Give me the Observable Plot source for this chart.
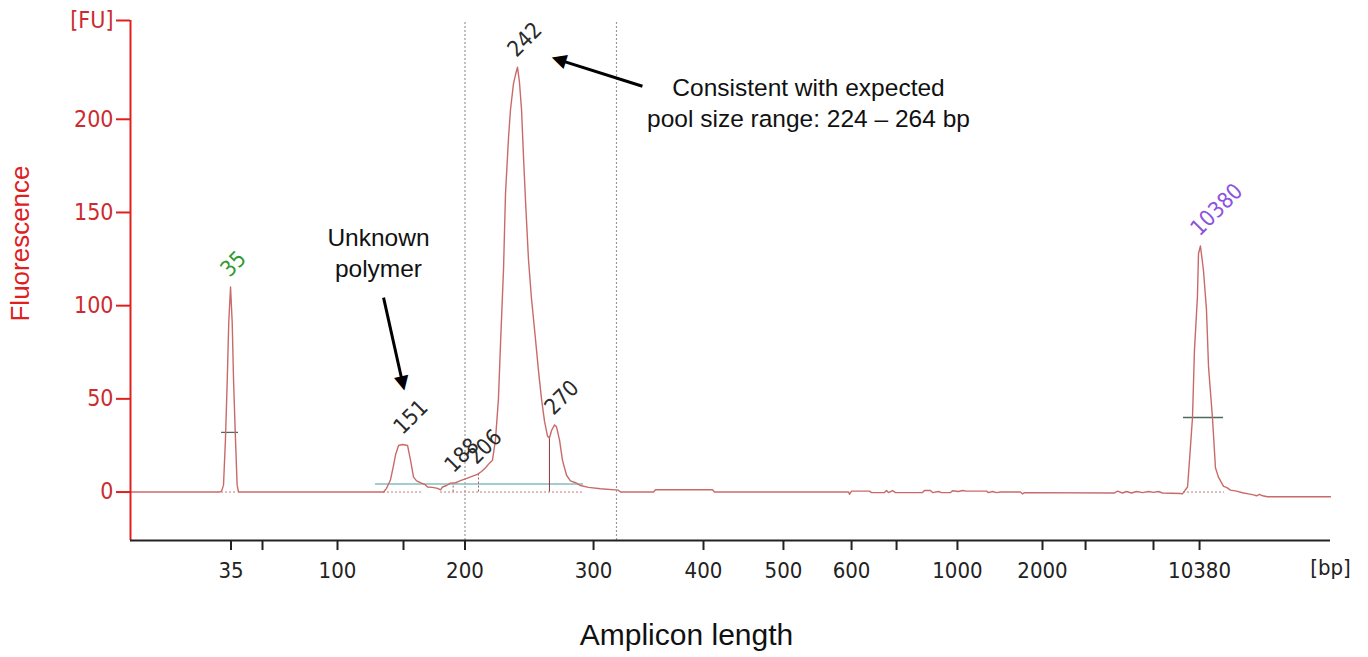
<!DOCTYPE html>
<html>
<head>
<meta charset="utf-8">
<script src="https://cdn.jsdelivr.net/npm/d3@7"></script>
<script src="https://cdn.jsdelivr.net/npm/@observablehq/plot@0.6"></script>
<style>
  html, body { margin: 0; padding: 0; background: #fff; }
  #chart svg { display: block; }
</style>
</head>
<body>
<div id="chart"></div>
<script>
// ---- Data (x = migration time in seconds, y = fluorescence units) ----
const traceT = [40, 45.93, 46.07, 46.2, 46.33, 46.45, 46.55, 46.67, 46.78, 46.87, 47.0, 47.11, 47.2,
  56.87, 57.07, 57.33, 57.53, 57.67, 57.87, 58.13, 58.47, 58.67, 58.87, 59.07, 59.33, 59.67, 59.8,
  60.13, 60.47, 60.67, 60.8, 61.07, 61.33, 61.67, 61.8, 62.13, 62.47, 62.8, 63.13, 63.4, 63.67, 63.93,
  64.13, 64.33, 64.53, 64.67, 64.87, 65.0, 65.2, 65.33, 65.53, 65.67, 65.8, 65.93, 66.07, 66.2, 66.33,
  66.53, 66.73, 67.0, 67.2, 67.4, 67.6, 67.8, 67.93, 68.07, 68.27, 68.4, 68.6, 68.8, 69.07, 69.33,
  69.67, 70.0, 70.53, 71.33, 72.53, 72.67, 74.87, 75.0, 78.8, 78.93, 87.87, 87.93, 88.07, 89.27, 89.4,
  90.27, 90.4, 90.53, 90.8, 91.0, 92.8, 92.93, 93.33, 93.47, 93.87, 94.07, 94.67, 94.8, 95.2, 95.47,
  95.73, 96.67, 97.07, 97.2, 97.47, 97.73, 98.0, 99.33, 99.47, 99.6, 105.6, 105.8, 106.13, 106.4,
  106.73, 107.07, 107.47, 107.87, 108.2, 108.53, 108.8, 110.0, 110.13, 110.47, 110.6, 110.8, 110.93,
  111.13, 111.2, 111.33, 111.53, 111.73, 111.87, 112.13, 112.33, 112.53, 112.87, 113.07, 113.33,
  113.73, 114.2, 114.53, 114.87, 115.07, 115.27, 115.47, 115.8, 120];
const traceFU = [0, 0, 0.5, 3.7, 28, 60, 91, 110, 91, 60, 28, 3.7, 0,
  0, 2, 6.5, 14, 20, 25, 25.5, 25, 17, 8, 6, 5, 3.8, 2.7,
  2.5, 2, 1.2, 2.7, 3.5, 4.8, 5, 5.4, 6.5, 7.5, 8.5, 9.5, 11, 13, 15.5,
  17, 28, 50, 80, 120, 160, 190, 205, 219, 224, 228, 220, 205, 180, 157,
  125, 104, 82, 65, 50, 38, 30, 29, 33, 36, 35, 28, 17, 9, 6,
  5, 3.5, 2.5, 1.8, 1, 0, 0, 1.2, 1.2, 0, 0, -1.2, 0.5, 0.5, -0.3,
  -0.3, 0.8, -0.3, 0.8, -0.3, -0.3, 0.8, 0.8, -0.3, 0.3, -0.3, -0.3, 0.7, 0.3, 0.8,
  0.5, 0.5, 0.5, -0.3, 0.3, -0.3, 0, 0, -1, -0.3, -0.5, 0.5, -0.5, 0.3,
  -0.5, 0.3, -0.3, 0.3, -0.2, 0.3, -0.5, -0.8, -1, 2.7, 17, 40, 76,
  105, 128, 132, 119, 98, 67, 40, 13, 8, 3, 2.5, 1,
  0.5, -0.5, -1, -1.5, -2, -1.2, -2, -2.5, -2.5];

const peakLabels = ["35", "151", "188", "206", "242", "270", "10380"];
const peakT      = [46.67, 58.2, 61.6, 63.13, 65.8, 68.27, 111.33];
const peakFU     = [110, 25.5, 5, 9.5, 228, 36, 132];
const peakColors = ["#2f9a2f", "#2a2a2a", "#2a2a2a", "#2a2a2a", "#2a2a2a", "#2a2a2a", "#8c52e0"];

const xTickT      = [46.7, 48.8, 53.8, 58.2, 62.3, 70.87, 78.2, 83.53, 88.07, 91.07, 95.13, 100.8, 103.67, 108.2, 111.27];
const xTickLabels = ["35", "", "100", "", "200", "300", "400", "500", "600", "", "1000", "2000", "", "", "10380"];
const yTickValues = [0, 50, 100, 150, 200, 253];
const yTickLabels = ["0", "50", "100", "150", "200", "[FU]"];

const rangeLinesT = [62.3, 72.4];                 // dotted size-range markers
const regionFU = [4.3], regionFrom = [56.33], regionTo = [70.2];
const baseFrom = [46.07, 56.87, 60.67, 110.2];
const baseTo   = [47.13, 59.53, 70.2, 112.93];
const dropT  = [61.51, 63.2, 67.93];
const dropFU = [4.5, 9.8, 29.5];
const markFrom = [46.07, 110.2];
const markTo   = [47.2, 112.87];
const markFU   = [32, 40];

const notes  = ["Consistent with expected\npool size range: 224 \u2013 264 bp", "Unknown\npolymer"];
const noteT  = [85.2, 56.53];
const noteFU = [209.4, 129];
const arrowFromT = [74.13, 56.87], arrowFromFU = [217.7, 104.3];
const arrowToT   = [68.0, 58.27],  arrowToFU   = [233.3, 53.8];

// ---- Tables built from the arrays ----
const trace = traceT.map((t, i) => ({t, fu: traceFU[i]}));
const peaks = peakLabels.map((label, i) => ({label, t: peakT[i], fu: peakFU[i], color: peakColors[i]}));
const xLab = new Map(xTickT.map((t, i) => [t, xTickLabels[i]]));
const yLab = new Map(yTickValues.map((v, i) => [v, yTickLabels[i]]));
const bases = baseFrom.map((a, i) => ({a, b: baseTo[i]}));
const drops = dropT.map((t, i) => ({t, fu: dropFU[i]}));
const halfMarks = markFrom.map((a, i) => ({a, b: markTo[i], fu: markFU[i]}));
const regions = regionFU.map((fu, i) => ({fu, a: regionFrom[i], b: regionTo[i]}));
const noteRows = notes.map((text, i) => ({text, t: noteT[i], fu: noteFU[i]}));

const RED = "#e0201f";
const RED_TXT = "#cc2b30";
const TICKFONT = "'DejaVu Sans Condensed', 'DejaVu Sans', sans-serif";
const SANS = "'Liberation Sans', Arial, sans-serif";

function build(arrowParts) {
  return Plot.plot({
    width: 1368,
    height: 657,
    marginLeft: 130,
    marginRight: 38,
    marginTop: 20,
    marginBottom: 117,
    x: {domain: [40, 120], axis: null},
    y: {domain: [-26, 253], axis: null},
    color: {type: "identity"},
    style: {background: "#fff", fontFamily: TICKFONT},
    marks: [
      Plot.ruleX(rangeLinesT, {y1: -26, y2: 253, stroke: "#9a9a9a", strokeWidth: 1.2, strokeDasharray: "2,2"}),
      Plot.ruleY(regions, {y: "fu", x1: "a", x2: "b", stroke: "#86bcbc", strokeWidth: 1.5}),
      Plot.ruleY(bases, {y: 0, x1: "a", x2: "b", stroke: "#c27878", strokeWidth: 1, strokeDasharray: "2,2"}),
      Plot.ruleX(drops.slice(0, 2), {x: "t", y1: 0, y2: "fu", stroke: "#a05a5a", strokeWidth: 1, strokeDasharray: "2,2"}),
      Plot.ruleX(drops.slice(2), {x: "t", y1: 0, y2: "fu", stroke: "#8a3a3a", strokeWidth: 1}),
      Plot.ruleY(halfMarks, {y: "fu", x1: "a", x2: "b", stroke: "#4d6b5c", strokeWidth: 1.3}),
      Plot.line(trace, {x: "t", y: "fu", stroke: "#c96a6a", strokeWidth: 1.4}),
      Plot.text(peaks, {x: "t", y: "fu", text: "label", fill: "color", rotate: -45, textAnchor: "start",
        lineAnchor: "bottom", dx: -1, dy: -9, fontSize: 22, fontFamily: TICKFONT}),
      Plot.ruleX([40], {y1: -26, y2: 253, stroke: RED, strokeWidth: 2}),
      Plot.ruleY([-26], {x1: 40, x2: 120, stroke: "#222", strokeWidth: 2.2}),
      Plot.axisY(yTickValues, {anchor: "left", tickSize: 14, tickPadding: 3, tickFormat: d => yLab.get(d),
        color: RED_TXT, stroke: RED, strokeWidth: 2, fontSize: 23, label: null}),
      Plot.axisX(xTickT, {anchor: "bottom", tickSize: 10, tickPadding: 12, tickFormat: d => xLab.get(d),
        color: "#222", strokeWidth: 2, fontSize: 22, label: null}),
      Plot.text(["[bp]"], {frameAnchor: "bottom-right", dy: 34, textAnchor: "middle", fontSize: 22, fill: "#222", fontFamily: TICKFONT}),
      Plot.text(["Fluorescence"], {frameAnchor: "left", textAnchor: "middle", dx: -110, dy: -37, rotate: -90, fontSize: 26, fill: RED, fontFamily: SANS}),
      Plot.text(["Amplicon length"], {frameAnchor: "bottom", textAnchor: "middle", dx: -44, dy: 104, fontSize: 30, fill: "#111", fontFamily: SANS}),
      Plot.text(noteRows, {x: "t", y: "fu", text: "text", fontSize: 24.5, lineHeight: 1.27, fill: "#111", fontFamily: SANS}),
      ...arrowParts
    ]
  });
}

// first pass: read the scales to orient arrow heads in screen space
const probe = build([]);
const sxd = probe.scale("x"), syd = probe.scale("y");
const sx = d3.scaleLinear(sxd.domain, sxd.range);
const sy = d3.scaleLinear(syd.domain, syd.range);
const HEAD = 15;
const shafts = [], heads = [];
arrowFromT.forEach((t, i) => {
  const X1 = sx(t), Y1 = sy(arrowFromFU[i]), X2 = sx(arrowToT[i]), Y2 = sy(arrowToFU[i]);
  const L = Math.hypot(X2 - X1, Y2 - Y1), ux = (X2 - X1) / L, uy = (Y2 - Y1) / L;
  shafts.push({x1: t, y1: arrowFromFU[i], x2: sx.invert(X2 - ux * HEAD * 0.7), y2: sy.invert(Y2 - uy * HEAD * 0.7)});
  heads.push({x: sx.invert(X2 - ux * HEAD * 0.5), y: sy.invert(Y2 - uy * HEAD * 0.5),
              angle: Math.atan2(ux, -uy) * 180 / Math.PI});
});
const arrowParts = [
  Plot.link(shafts, {x1: "x1", y1: "y1", x2: "x2", y2: "y2", stroke: "#000", strokeWidth: 3}),
  Plot.text(heads, {x: "x", y: "y", text: () => "\u25B2", rotate: "angle", fontSize: 19,
    lineAnchor: "middle", textAnchor: "middle", fill: "#000", fontFamily: "'DejaVu Sans', sans-serif"})
];
const chart = build(arrowParts);
document.getElementById("chart").appendChild(chart);
</script>
</body>
</html>
